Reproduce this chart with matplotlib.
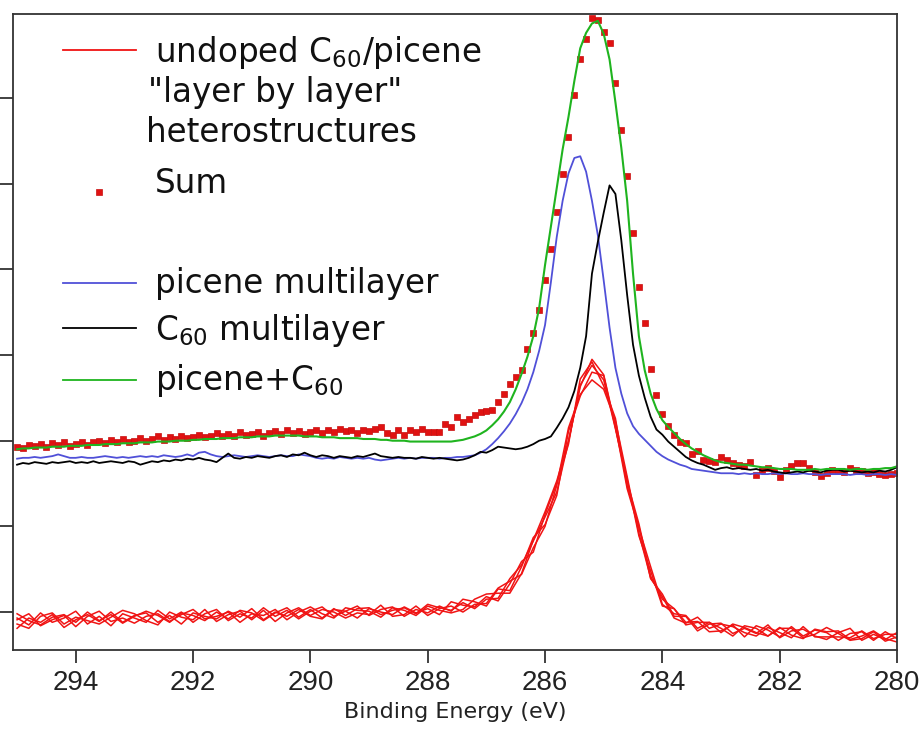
import numpy as np
import matplotlib
matplotlib.use("Agg")
import matplotlib.pyplot as plt

# C 1s spectra, intensities in units of the (unlabelled) y tick spacing.
# Multilayer spectra, fit and Sum points every 0.1 eV from 295 to 280 eV
# (first row 295.0-294.0, then one row per eV).
picene = [
    1.79, 1.80, 1.80, 1.81, 1.80, 1.81, 1.82, 1.84, 1.82, 1.80, 1.80,
    1.81, 1.80, 1.80, 1.81, 1.82, 1.81, 1.80, 1.81, 1.80, 1.81,
    1.82, 1.81, 1.82, 1.81, 1.83, 1.82, 1.81, 1.82, 1.84, 1.82,
    1.86, 1.87, 1.84, 1.82, 1.81, 1.82, 1.83, 1.82, 1.81, 1.82,
    1.83, 1.82, 1.81, 1.82, 1.83, 1.82, 1.82, 1.84, 1.83, 1.82,
    1.80, 1.79, 1.80, 1.79, 1.81, 1.80, 1.79, 1.80, 1.79, 1.80,
    1.78, 1.77, 1.78, 1.79, 1.80, 1.79, 1.80, 1.79, 1.80, 1.80,
    1.80, 1.79, 1.80, 1.80, 1.81, 1.81, 1.82, 1.83, 1.86, 1.90,
    1.96, 2.03, 2.11, 2.20, 2.31, 2.44, 2.60, 2.80, 3.05, 3.35,
    3.85, 4.38, 4.80, 5.12, 5.30, 5.32, 5.14, 4.80, 4.40, 3.87,
    3.32, 2.85, 2.55, 2.32, 2.17, 2.08, 2.01, 1.94, 1.87, 1.82,
    1.78, 1.75, 1.72, 1.70, 1.67, 1.66, 1.65, 1.64, 1.63, 1.62,
    1.62, 1.62, 1.61, 1.62, 1.61, 1.62, 1.61, 1.61, 1.62, 1.61,
    1.62, 1.61, 1.61, 1.62, 1.61, 1.61, 1.60, 1.61, 1.61, 1.61,
    1.61, 1.60, 1.61, 1.61, 1.60, 1.61, 1.61, 1.60, 1.61, 1.60,
]
c60 = [
    1.72, 1.74, 1.73, 1.75, 1.74, 1.73, 1.75, 1.74, 1.75, 1.76, 1.74,
    1.75, 1.74, 1.76, 1.74, 1.75, 1.76, 1.75, 1.74, 1.76, 1.75,
    1.72, 1.74, 1.76, 1.75, 1.77, 1.76, 1.78, 1.77, 1.79, 1.78,
    1.80, 1.78, 1.77, 1.75, 1.80, 1.85, 1.80, 1.79, 1.81, 1.80,
    1.82, 1.81, 1.80, 1.82, 1.83, 1.81, 1.84, 1.83, 1.86, 1.83,
    1.81, 1.83, 1.82, 1.80, 1.82, 1.81, 1.80, 1.82, 1.81, 1.83,
    1.85, 1.82, 1.81, 1.80, 1.81, 1.80, 1.80, 1.79, 1.81, 1.80,
    1.79, 1.80, 1.79, 1.78, 1.77, 1.78, 1.80, 1.83, 1.87, 1.86,
    1.89, 1.93, 1.92, 1.91, 1.90, 1.91, 1.93, 1.96, 2.00, 2.02,
    2.05, 2.15, 2.26, 2.39, 2.58, 2.85, 3.22, 3.95, 4.32, 4.66,
    4.98, 4.88, 4.34, 3.70, 3.12, 2.76, 2.50, 2.28, 2.13, 2.07,
    1.99, 1.93, 1.87, 1.81, 1.77, 1.74, 1.72, 1.69, 1.66, 1.68,
    1.69, 1.67, 1.68, 1.67, 1.66, 1.67, 1.65, 1.66, 1.64, 1.63,
    1.62, 1.63, 1.64, 1.63, 1.65, 1.64, 1.63, 1.65, 1.66, 1.66,
    1.64, 1.65, 1.64, 1.63, 1.64, 1.63, 1.65, 1.64, 1.66, 1.69,
]
picene_c60 = [
    1.90, 1.91, 1.91, 1.92, 1.92, 1.92, 1.93, 1.93, 1.93, 1.94, 1.94,
    1.94, 1.95, 1.95, 1.95, 1.96, 1.96, 1.96, 1.97, 1.97, 1.97,
    1.98, 1.98, 1.98, 1.99, 1.99, 1.99, 2.00, 2.00, 2.00, 2.01,
    2.01, 2.02, 2.02, 2.02, 2.03, 2.03, 2.03, 2.04, 2.04, 2.04,
    2.05, 2.05, 2.05, 2.06, 2.06, 2.06, 2.06, 2.06, 2.05, 2.05,
    2.05, 2.04, 2.04, 2.04, 2.03, 2.03, 2.03, 2.03, 2.02, 2.02,
    2.02, 2.01, 2.01, 2.00, 2.00, 2.00, 1.99, 1.99, 1.99, 1.99,
    1.99, 1.99, 1.99, 1.99, 2.00, 2.01, 2.03, 2.05, 2.08, 2.12,
    2.18, 2.25, 2.34, 2.45, 2.60, 2.78, 2.98, 3.22, 3.55, 4.05,
    4.50, 4.95, 5.40, 5.78, 6.20, 6.58, 6.76, 6.87, 6.90, 6.75,
    6.45, 5.95, 5.42, 4.80, 3.95, 3.22, 2.82, 2.55, 2.37, 2.24,
    2.16, 2.09, 2.02, 1.96, 1.91, 1.87, 1.83, 1.80, 1.77, 1.75,
    1.74, 1.73, 1.72, 1.72, 1.71, 1.70, 1.69, 1.69, 1.68, 1.67,
    1.67, 1.67, 1.66, 1.66, 1.66, 1.67, 1.66, 1.67, 1.67, 1.67,
    1.67, 1.66, 1.67, 1.67, 1.66, 1.67, 1.67, 1.68, 1.68, 1.70,
]
sum_points = [
    1.93, 1.92, 1.95, 1.94, 1.96, 1.93, 1.97, 1.95, 1.99, 1.94, 1.96,
    1.98, 1.95, 1.99, 2.00, 1.97, 2.01, 1.98, 2.02, 1.99, 2.00,
    2.03, 2.00, 2.02, 2.05, 2.01, 2.04, 2.02, 2.06, 2.03, 2.04,
    2.07, 2.04, 2.06, 2.09, 2.05, 2.08, 2.06, 2.10, 2.07, 2.08,
    2.10, 2.06, 2.09, 2.11, 2.08, 2.12, 2.09, 2.11, 2.08, 2.10,
    2.12, 2.09, 2.13, 2.10, 2.14, 2.11, 2.13, 2.09, 2.12, 2.11,
    2.14, 2.16, 2.09, 2.07, 2.12, 2.07, 2.13, 2.10, 2.14, 2.10,
    2.10, 2.10, 2.20, 2.16, 2.28, 2.22, 2.25, 2.30, 2.33, 2.35,
    2.36, 2.45, 2.55, 2.66, 2.74, 2.82, 3.07, 3.26, 3.53, 3.88,
    4.24, 4.67, 5.11, 5.54, 6.04, 6.45, 6.69, 6.93, 6.91, 6.77,
    6.64, 6.17, 5.63, 5.09, 4.43, 3.79, 3.37, 2.84, 2.53, 2.31,
    2.17, 2.07, 1.98, 1.97, 1.84, 1.88, 1.77, 1.76, 1.75, 1.81,
    1.77, 1.74, 1.72, 1.70, 1.75, 1.60, 1.66, 1.68, 1.65, 1.58,
    1.66, 1.70, 1.74, 1.74, 1.68, 1.64, 1.59, 1.62, 1.66, 1.65,
    1.64, 1.68, 1.66, 1.65, 1.62, 1.63, 1.61, 1.60, 1.61, 1.62,
]

# undoped heterostructures, every 0.2 eV: mean profile plus each
# sample's deviation from it (in 0.01 units)
undoped_mean = [
    -0.11, -0.10, -0.10, -0.09, -0.09, -0.09, -0.08, -0.08, -0.08, -0.07,
    -0.07, -0.07, -0.07, -0.06, -0.06, -0.06, -0.05, -0.05, -0.05, -0.04,
    -0.04, -0.04, -0.03, -0.03, -0.03, -0.02, -0.02, -0.02, -0.01, -0.01,
    -0.01, 0.00, 0.00, 0.00, 0.01, 0.01, 0.02, 0.04, 0.06, 0.09,
    0.13, 0.19, 0.30, 0.50, 0.78, 1.08, 1.45, 2.05, 2.60, 2.80,
    2.68, 2.20, 1.50, 0.95, 0.45, 0.12, -0.02, -0.10, -0.14, -0.17,
    -0.19, -0.20, -0.21, -0.22, -0.23, -0.24, -0.25, -0.25, -0.26, -0.26,
    -0.27, -0.27, -0.28, -0.28, -0.29, -0.29,
]
undoped_dev = [
    [4, -5, 9, -3, 2, 10, -6, 3, -8, 5,
     0, -5, 9, -2, 6, -6, 3, 8, -5, 2,
     -3, 9, -2, 5, -5, 3, 8, -3, 2, -6,
     5, 0, -3, 6, -2, 3, -5, 8, 2, -3,
     5, -6, 3, 9, -8, 6, 5, -9, 12, 12,
     -4, 6, -3, 5, -6, 9, -3, 5, -8, 3,
     6, -5, 2, -3, 8, -6, 3, 5, -2, -6,
     3, 8, -5, 2, -3, 5],
    [-8, 3, -2, 6, -9, 0, 5, -3, 8, -5,
     3, 6, -5, 2, -8, 5, 0, -3, 6, -2,
     8, -5, 3, -2, 6, -3, -6, 5, 2, 8,
     -3, 3, 6, -5, 2, -2, 5, -3, 9, 3,
     -6, 8, -5, 3, 9, -6, -9, 6, -8, 0,
     8, -5, 5, -6, 3, -5, 6, -2, 3, -6,
     -3, 5, -8, 6, 2, -5, 8, -3, 5, 2,
     -6, 2, 5, -5, 6, -2],
    [2, 8, -6, 0, 5, -8, 3, 9, -3, 0,
     -6, 2, 5, -5, 3, 9, -3, 0, 5, -8,
     2, 0, 6, -6, 3, 8, 0, -5, 6, 3,
     2, -6, 5, 2, -5, 6, 0, -5, -3, 6,
     8, 3, -8, -5, 6, 9, 8, -5, 3, 15,
     9, -3, -6, 3, 8, -3, 0, 6, -5, 5,
     0, -8, 5, 3, -5, 6, -2, -6, 6, 3,
     5, -5, 0, 6, -2, -6],
    [-3, -9, 5, 8, -5, 3, -2, -6, 2, 9,
     5, -3, -8, 6, 0, -3, 8, -6, 2, 5,
     -5, 6, -8, 2, 8, -2, 5, 2, -6, 0,
     -2, 8, -5, -3, 6, -5, 2, 3, -6, 0,
     -3, 9, 6, -6, -3, -8, 3, 10, -6, -9,
     -8, 3, 8, -3, -5, 6, -5, -3, 8, -2,
     5, 3, -3, -6, 5, 0, -5, 8, -3, -3,
     -2, -3, 6, -3, 3, 3],
    [9, 0, -5, 3, 6, -3, 8, -2, 5, -6,
     2, 8, 3, -6, 5, 2, -5, 5, -3, 6,
     3, -6, 2, 8, -3, 5, -5, 6, -3, 5,
     6, -3, 2, 5, -3, 8, 3, -2, 5, -5,
     2, -3, 9, 5, 5, 3, -5, -6, 5, 8,
     3, -6, 2, 8, -3, 3, 6, -5, 2, 5,
     -5, 6, 3, -2, -5, 5, 6, -5, 0, 8,
     2, -6, -3, 5, -5, 0],
]

RED = "#f01414"
BLUE = "#5050d8"
GREEN = "#1fb41f"
SUM_STYLE = dict(ls="none", marker="s", ms=5.0, mfc="#e01212",
                 mec="#c81010", mew=0.5)

energy = np.linspace(295, 280, len(picene))
energy_undoped = np.linspace(295, 280, len(undoped_mean))

fig = plt.figure(figsize=(9.2, 7.31), dpi=100)
ax = fig.add_axes([0.0141, 0.1108, 0.9609, 0.870])

mean = np.array(undoped_mean)
for dev in undoped_dev:
    ax.plot(energy_undoped, mean + np.array(dev) / 100, color=RED, lw=1.1)

ax.plot(energy, sum_points, **SUM_STYLE)
ax.plot(energy, picene, color=BLUE, lw=1.3)
ax.plot(energy, c60, color="black", lw=1.3)
ax.plot(energy, picene_c60, color=GREEN, lw=1.5)

ax.set_xlim(295.07, 280)
ax.set_ylim(-0.443, 6.98)
ax.set_xticks(np.arange(294, 279, -2))
ax.set_yticks(np.arange(0, 7))
ax.set_yticklabels([])
ax.tick_params(direction="out", length=9.5, width=1.3, color="#333333")
ax.tick_params(axis="x", pad=5, labelsize=20)
for lab in ax.get_xticklabels():
    lab.set_family("Liberation Sans")
    lab.set_color("#222222")
for s in ax.spines.values():
    s.set_linewidth(1.3)
    s.set_color("#333333")
ax.set_xlabel("Binding Energy (eV)", fontsize=16, labelpad=4, color="#222222")

# hand-placed key in the upper left corner
tf = ax.transAxes
kw = dict(transform=tf, fontsize=23.5, va="baseline", color="#111111")
ax.plot([0.0566, 0.139], [0.9434, 0.9434], color=RED, lw=1.3, transform=tf)
ax.text(0.1606, 0.9245, r"undoped C$_{60}$/picene", **kw)
ax.text(0.1527, 0.8616, '"layer by layer"', **kw)
ax.text(0.1500, 0.7987, "heterostructures", **kw)
ax.plot([0.0973], [0.7201], transform=tf, **SUM_STYLE)
ax.text(0.1606, 0.7186, "Sum", **kw)
ax.plot([0.0566, 0.139], [0.5770, 0.5770], color=BLUE, lw=1.3, transform=tf)
ax.text(0.1606, 0.5613, "picene multilayer", **kw)
ax.plot([0.0566, 0.139], [0.5063, 0.5063], color="black", lw=1.3, transform=tf)
ax.text(0.1606, 0.4874, r"C$_{60}$ multilayer", **kw)
ax.plot([0.0566, 0.139], [0.4245, 0.4245], color=GREEN, lw=1.3, transform=tf)
ax.text(0.1606, 0.4088, r"picene+C$_{60}$", **kw)

fig.savefig("out.png", dpi=100)
